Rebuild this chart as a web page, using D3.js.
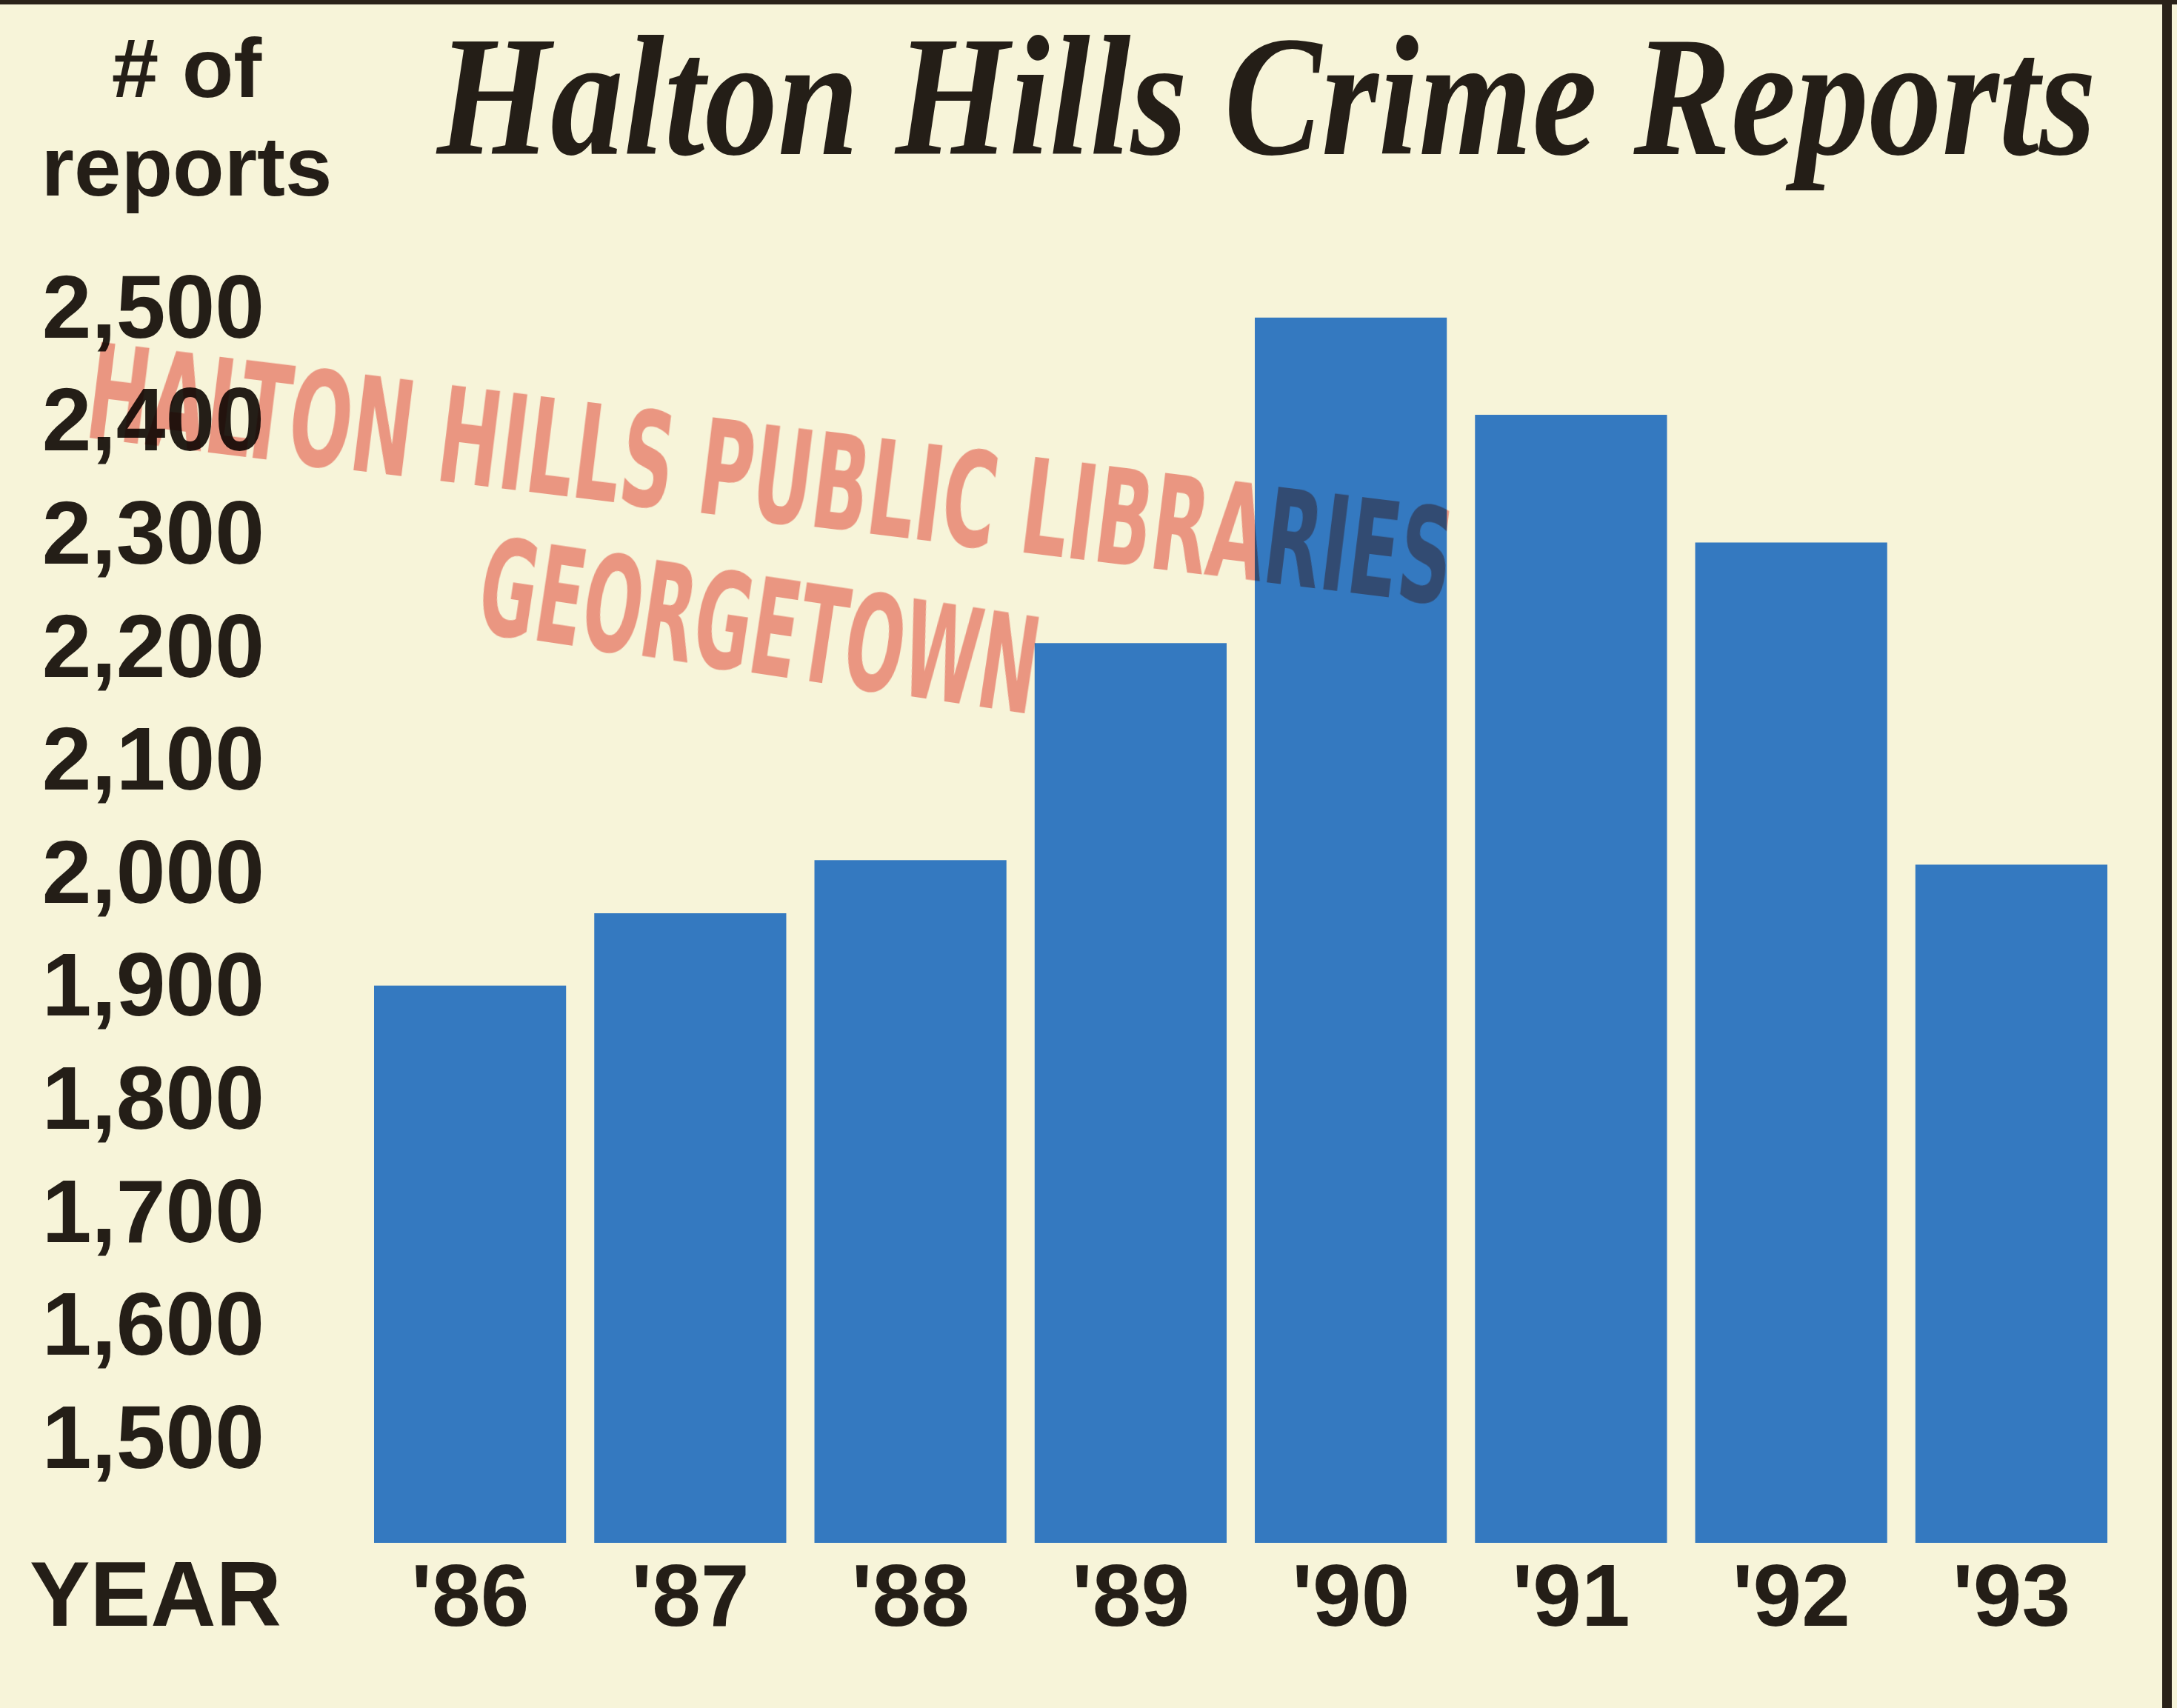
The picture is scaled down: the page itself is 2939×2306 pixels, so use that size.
<!DOCTYPE html>
<html>
<head>
<meta charset="utf-8">
<script src="https://cdn.jsdelivr.net/npm/d3@7"></script>
<style>
  html, body { margin: 0; padding: 0; background: #f7f4d9; }
  svg { display: block; }
</style>
</head>
<body>
<script>
// ---- data ----
const years = ["'86", "'87", "'88", "'89", "'90", "'91", "'92", "'93"];
const reports = [1898, 1962, 2009, 2201, 2489, 2403, 2290, 2005];
const tickValues = [1500, 1600, 1700, 1800, 1900, 2000, 2100, 2200, 2300, 2400, 2500];
const titleText = "Halton Hills Crime Reports";
const yLabelLines = ["# of", "reports"];
const xLabel = "YEAR";
const stampLines = ["HALTON HILLS PUBLIC LIBRARIES", "GEORGETOWN"];

// ---- layout ----
const W = 2939, H = 2306;
const ink = "#241e17";
const barColor = "#3479c0";
const sans = "'Liberation Sans', Arial, sans-serif";

const svg = d3.select("body").append("svg")
  .attr("width", W).attr("height", H);

svg.append("rect").attr("width", W).attr("height", H).attr("fill", "#f7f4d9");

// frame lines (top and right)
svg.append("rect").attr("x", 0).attr("y", 0).attr("width", W).attr("height", 6).attr("fill", "#2a2219");
svg.append("rect").attr("x", 2919).attr("y", 0).attr("width", 13).attr("height", H).attr("fill", "#2a2219");

const x = d3.scaleBand().domain(years).range([505, 2845]).paddingInner(0.128).paddingOuter(0);
const y = d3.scaleLinear().domain([1405, 2500]).range([2083, 412]);

// bars
svg.append("g").selectAll("rect")
  .data(years.map((yr, i) => ({ yr, v: reports[i] })))
  .join("rect")
  .attr("x", d => x(d.yr))
  .attr("width", x.bandwidth())
  .attr("y", d => y(d.v))
  .attr("height", d => y.range()[0] - y(d.v))
  .attr("fill", barColor);

// y axis labels
const yAxis = d3.axisLeft(y).tickValues(tickValues).tickFormat(d3.format(",")).tickSize(0).tickPadding(0);
const gy = svg.append("g").attr("transform", "translate(357,0)").call(yAxis);
gy.select(".domain").remove();
gy.selectAll("text")
  .attr("fill", ink)
  .attr("font-family", sans)
  .attr("font-weight", "bold")
  .attr("font-size", 120)
  .attr("dy", "0.36em");

// x axis labels
const xAxis = d3.axisBottom(x).tickSize(0).tickPadding(0);
const gx = svg.append("g").attr("transform", "translate(0,2195)").call(xAxis);
gx.select(".domain").remove();
gx.selectAll("text")
  .attr("fill", ink)
  .attr("font-family", sans)
  .attr("font-weight", "bold")
  .attr("font-size", 118)
  .attr("dy", 0)
  .attr("y", 0);

// fit a text to a target width by horizontal scaling
function fitText(sel, tx, ty, rot, target) {
  const w = sel.node().getComputedTextLength();
  sel.attr("transform", `translate(${tx},${ty}) rotate(${rot}) scale(${target / w},1)`);
}

fitText(svg.append("text")
  .attr("fill", ink)
  .attr("font-family", sans)
  .attr("font-weight", "bold")
  .attr("font-size", 124)
  .text(xLabel), 40, 2195, 0, 340);

// y title
svg.append("text")
  .attr("x", 252).attr("y", 131)
  .attr("text-anchor", "middle")
  .attr("fill", ink)
  .attr("font-family", sans)
  .attr("font-weight", "bold")
  .attr("font-size", 114)
  .text(yLabelLines[0]);
svg.append("text")
  .attr("x", 252).attr("y", 264)
  .attr("text-anchor", "middle")
  .attr("fill", ink)
  .attr("font-family", sans)
  .attr("font-weight", "bold")
  .attr("font-size", 114)
  .text(yLabelLines[1]);

// main title
fitText(svg.append("text")
  .attr("fill", ink)
  .attr("font-family", "'Liberation Serif', 'DejaVu Serif', serif")
  .attr("font-weight", "bold")
  .attr("font-style", "italic")
  .attr("font-size", 230)
  .text(titleText), 590, 208, 0, 2240);

// library stamp
const stamp = svg.append("g").style("mix-blend-mode", "multiply").attr("opacity", 0.66);
fitText(stamp.append("text")
  .attr("fill", "#ec6a62")
  .attr("font-family", "'Liberation Sans Narrow', 'DejaVu Sans Condensed', sans-serif")
  .attr("font-weight", "bold")
  .attr("font-size", 178)
  .text(stampLines[0]), 112, 590, 7, 1855);
fitText(stamp.append("text")
  .attr("fill", "#ec6a62")
  .attr("font-family", "'Liberation Sans Narrow', 'DejaVu Sans Condensed', sans-serif")
  .attr("font-weight", "bold")
  .attr("font-size", 180)
  .text(stampLines[1]), 640, 852, 8.5, 760);
</script>
</body>
</html>
